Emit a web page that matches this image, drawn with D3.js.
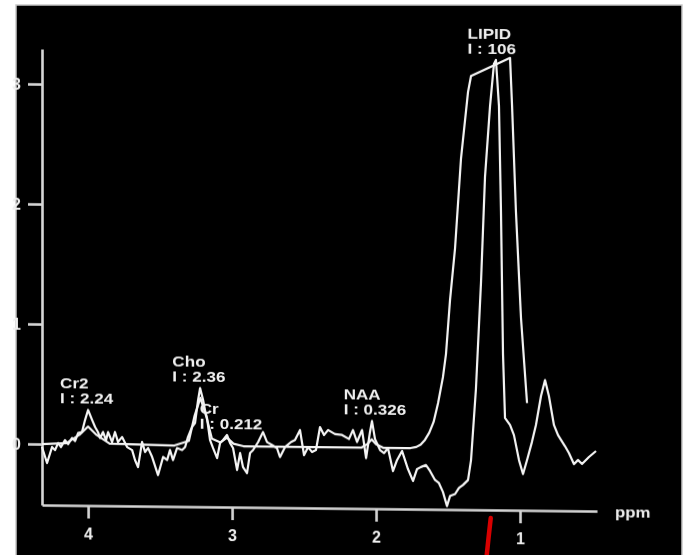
<!DOCTYPE html>
<html>
<head>
<meta charset="utf-8">
<script src="https://cdn.jsdelivr.net/npm/d3@7"></script>
<style>
    html, body { margin: 0; padding: 0; background: #fff; }
    svg { display: block; }
    text { font-family: "Liberation Sans", Arial, sans-serif; font-weight: bold; fill: #f0f0f0; }
</style>
</head>
<body>
<div id="chart"></div>
<script>
// measured spectrum (ppm, intensity)
const measuredPpm = [4.32, 4.285, 4.25, 4.229, 4.208, 4.188, 4.16, 4.139, 4.111, 4.09,
    4.069, 4.042, 4.021, 4.0, 3.972, 3.951, 3.931, 3.917, 3.896, 3.875,
    3.861, 3.833, 3.813, 3.792, 3.764, 3.729, 3.694, 3.674, 3.653, 3.625,
    3.604, 3.583, 3.555, 3.514, 3.479, 3.451, 3.431, 3.41, 3.382, 3.347,
    3.326, 3.306, 3.278, 3.257, 3.236, 3.222, 3.201, 3.188, 3.174, 3.153,
    3.132, 3.104, 3.083, 3.062, 3.035, 3.014, 2.993, 2.965, 2.944, 2.924,
    2.896, 2.875, 2.854, 2.819, 2.785, 2.757, 2.722, 2.688, 2.667, 2.632,
    2.59, 2.563, 2.528, 2.5, 2.472, 2.444, 2.417, 2.389, 2.361, 2.333,
    2.285, 2.236, 2.188, 2.16, 2.132, 2.097, 2.069, 2.042, 2.028, 2.007,
    1.972, 1.944, 1.917, 1.882, 1.854, 1.819, 1.778, 1.743, 1.715, 1.688,
    1.653, 1.625, 1.59, 1.563, 1.535, 1.507, 1.486, 1.451, 1.424, 1.396,
    1.361, 1.34, 1.306, 1.271, 1.243, 1.208, 1.181, 1.167, 1.146, 1.132,
    1.118, 1.104, 1.069, 1.042, 1.007, 0.979, 0.951, 0.917, 0.889, 0.854,
    0.826, 0.799, 0.764, 0.736, 0.688, 0.66, 0.625, 0.597, 0.569, 0.521, 0.472];
const measuredI = [-0.025, -0.158, -0.024, -0.049, 0.010, -0.023, 0.035, 0.002, 0.053, 0.028,
    0.095, 0.104, 0.204, 0.288, 0.205, 0.146, 0.105, 0.055, 0.106, 0.039,
    0.106, 0.023, 0.107, 0.024, 0.066, -0.017, -0.042, -0.125, -0.183, 0.026,
    -0.057, -0.024, -0.098, -0.248, -0.097, -0.122, -0.038, -0.121, -0.021, -0.037,
    -0.012, 0.072, 0.155, 0.189, 0.381, 0.481, 0.381, 0.298, 0.232, 0.049,
    -0.018, -0.101, 0.025, 0.050, 0.092, 0.026, -0.016, -0.199, -0.057, -0.173,
    -0.223, -0.056, -0.031, 0.036, 0.120, 0.037, 0.013, -0.012, -0.087, -0.003,
    0.040, 0.057, 0.140, -0.068, -0.001, -0.042, -0.025, 0.167, 0.101, 0.143,
    0.110, 0.103, 0.070, 0.145, 0.046, 0.146, -0.087, 0.130, 0.222, 0.072,
    -0.019, -0.044, -0.002, -0.193, -0.101, -0.025, -0.175, -0.274, -0.174, -0.157,
    -0.140, -0.189, -0.264, -0.289, -0.363, -0.480, -0.396, -0.379, -0.328, -0.303,
    -0.261, -0.094, 0.498, 1.382, 2.266, 2.858, 3.208, 3.242, 2.860, 1.975,
    0.792, 0.259, 0.201, 0.118, -0.090, -0.206, -0.089, 0.062, 0.204, 0.446,
    0.579, 0.446, 0.205, 0.122, 0.031, -0.027, -0.118, -0.084, -0.117, -0.058, -0.008];

// fitted model curve
const fitPpm = [4.32, 4.15, 4.06, 4.0, 3.94, 3.85, 3.40, 3.30, 3.26, 3.22, 3.18, 3.14, 3.08, 3.035, 2.99, 2.92,
    2.10, 2.06, 2.03, 2.00, 1.95, 1.76, 1.72, 1.69, 1.66, 1.63, 1.60, 1.569, 1.535, 1.514, 1.486,
    1.451, 1.410, 1.361, 1.340, 1.069, 1.055, 1.028, 0.993, 0.951];
const fitI = [0, 0.01, 0.08, 0.15, 0.08, 0.01, 0, 0.04, 0.25, 0.40, 0.25, 0.06, 0.03, 0.07, 0.02, 0,
    0, 0.03, 0.07, 0.03, 0, 0, 0.01, 0.03, 0.07, 0.13, 0.22, 0.378, 0.595, 0.787, 1.237,
    1.671, 2.413, 2.972, 3.106, 3.260, 2.860, 1.977, 1.094, 0.386];

const xTicks = [4, 3, 2, 1];
const yTicks = [0, 1, 2, 3];

const peakNames = ["Cr2", "Cho", "Cr", "NAA", "LIPID"];
const peakAreas = ["2.24", "2.36", "0.212", "0.326", "106"];
const peakPpm = [4.0, 3.22, 3.03, 2.03, 1.17];

const markerPpm = 1.21;   // red pen mark below the axis

const width = 692, height = 555;
const axisColor = "#d6d6d6";
const lineColor = "#f4f4f4";

const svg = d3.select("#chart")
    .append("svg")
    .attr("width", width)
    .attr("height", height);

const defs = svg.append("defs");
defs.append("filter").attr("id", "soft")
    .attr("x", "-5%").attr("y", "-5%").attr("width", "110%").attr("height", "110%")
    .append("feGaussianBlur").attr("stdDeviation", 0.7);

// black panel
svg.append("rect")
    .attr("x", 16).attr("y", 5)
    .attr("width", 666).attr("height", 560)
    .attr("fill", "#000")
    .attr("stroke", "#c8c8c8")
    .attr("stroke-width", 1.5);

const x = d3.scaleLinear().domain([4.32, 0.465]).range([42, 597]);
const y = d3.scaleLinear().domain([-0.508, 3.292]).range([505, 49]);

// the photo is a little tilted, so shear the plot
const plot = svg.append("g")
    .attr("filter", "url(#soft)")
    .attr("transform", "translate(42,0) skewY(0.63) translate(-42,0)");

// Y axis
const yAxis = plot.append("g")
    .attr("transform", "translate(42,0)")
    .call(d3.axisLeft(y).tickValues(yTicks).tickSize(14).tickSizeOuter(0).tickPadding(7).tickFormat(d => d));
yAxis.selectAll("path, line").attr("stroke", axisColor).attr("stroke-width", 2.6);
yAxis.selectAll("text").style("font-size", "16px").attr("fill", "#e0e0e0");

// X axis
const xAxis = plot.append("g")
    .attr("transform", "translate(0,505)")
    .call(d3.axisBottom(x).tickValues(xTicks).tickSize(13).tickSizeOuter(0).tickPadding(10).tickFormat(d => d));
xAxis.selectAll("path, line").attr("stroke", axisColor).attr("stroke-width", 2.6);
xAxis.selectAll("text").style("font-size", "16px").attr("fill", "#e8e8e8");

plot.append("text")
    .attr("transform", `translate(${x.range()[1] + 18},${y.range()[0] + 6}) scale(1.2,1)`)
    .style("font-size", "14px")
    .text("ppm");

// curves
const line = d3.line()
    .x(d => x(d[0]))
    .y(d => y(d[1]));

const fitData = d3.zip(fitPpm, fitI);
const measuredData = d3.zip(measuredPpm, measuredI);

[fitData, measuredData].forEach(series => {
    plot.append("path")
        .datum(series)
        .attr("d", line)
        .attr("fill", "none")
        .attr("stroke", lineColor)
        .attr("stroke-width", 2.2)
        .attr("stroke-linejoin", "round");
});

// peak labels
const allData = measuredData.concat(fitData);
peakNames.forEach((name, i) => {
    const near = allData.filter(d => Math.abs(d[0] - peakPpm[i]) <= 0.03);
    const top = d3.max(near, d => d[1]);
    const lx = x(peakPpm[i]) - 28;
    const ly = y(top) - 6;
    plot.append("text")
        .attr("transform", `translate(${lx},${ly - 15}) scale(1.22,1)`)
        .style("font-size", "14px")
        .text(name);
    plot.append("text")
        .attr("transform", `translate(${lx},${ly}) scale(1.22,1)`)
        .style("font-size", "14px")
        .text("I : " + peakAreas[i]);
});

// red pen mark
const mx = x(markerPpm);
svg.append("path")
    .attr("d", d3.line()([[mx + 1, 518], [mx - 1, 536], [mx - 3, height]]))
    .attr("fill", "none")
    .attr("stroke", "#d80000")
    .attr("stroke-width", 4.5)
    .attr("stroke-linecap", "round");
</script>
</body>
</html>
